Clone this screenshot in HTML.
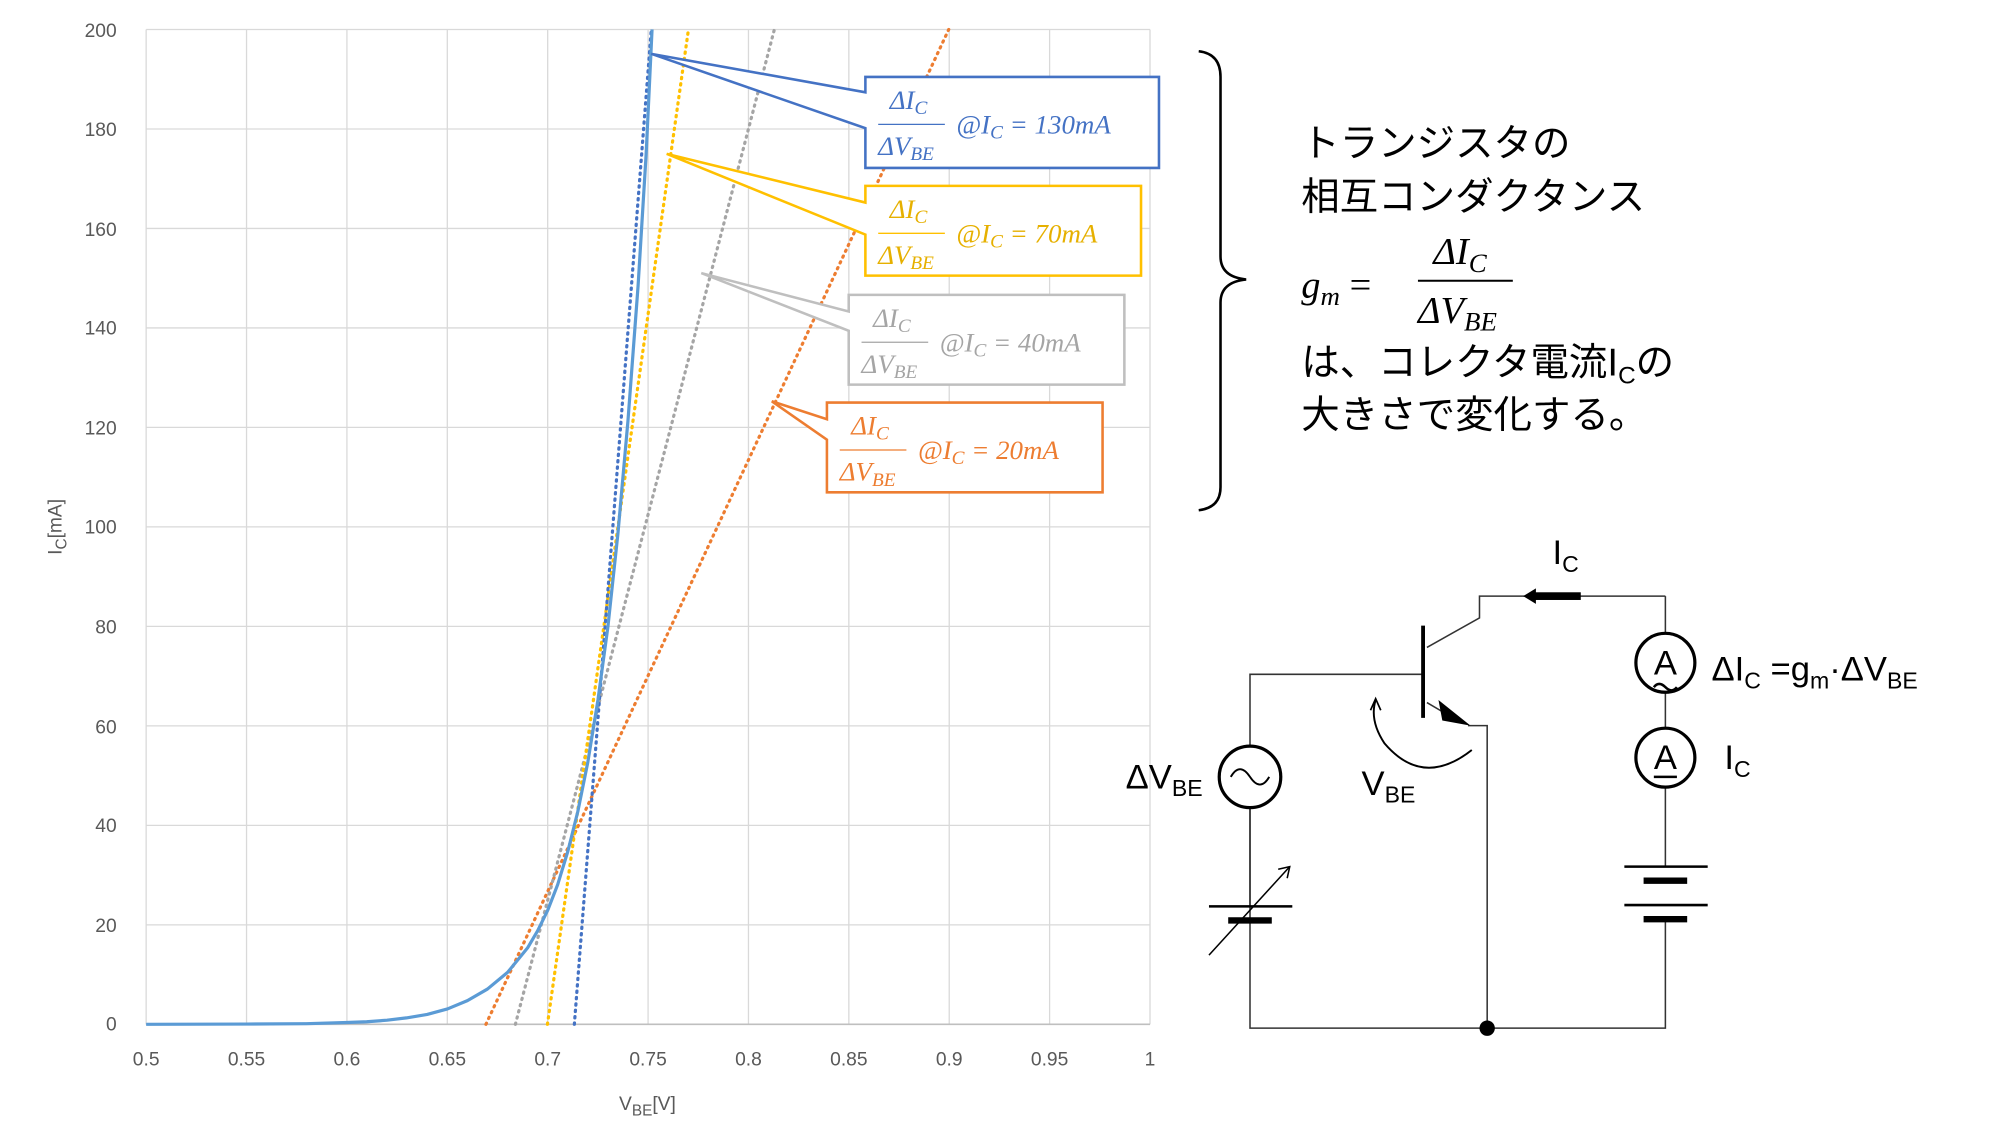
<!DOCTYPE html>
<html><head><meta charset="utf-8"><style>
html,body{margin:0;padding:0;background:#fff;}
svg{display:block;}
.t{font-family:"Liberation Sans",sans-serif;fill:#595959;font-size:15px;}
.m{font-family:"Liberation Serif",serif;font-style:italic;font-size:21px;}
.c{font-family:"Liberation Sans",sans-serif;font-size:27px;fill:#000;}
.j{font-family:"Liberation Sans","Noto Sans CJK JP",sans-serif;font-size:30px;fill:#000;}
</style></head><body>
<svg width="2000" height="1132" viewBox="0 0 1560 883" preserveAspectRatio="none" xmlns="http://www.w3.org/2000/svg">
<rect width="1560" height="883" fill="#fff"/>
<g stroke="#d9d9d9" stroke-width="1">
<line x1="114" y1="23" x2="897" y2="23"/><line x1="114" y1="100.6" x2="897" y2="100.6"/><line x1="114" y1="178.2" x2="897" y2="178.2"/><line x1="114" y1="255.8" x2="897" y2="255.8"/><line x1="114" y1="333.4" x2="897" y2="333.4"/><line x1="114" y1="411" x2="897" y2="411"/><line x1="114" y1="488.6" x2="897" y2="488.6"/><line x1="114" y1="566.2" x2="897" y2="566.2"/><line x1="114" y1="643.8" x2="897" y2="643.8"/><line x1="114" y1="721.4" x2="897" y2="721.4"/>
<line x1="114" y1="23" x2="114" y2="799"/><line x1="192.3" y1="23" x2="192.3" y2="799"/><line x1="270.6" y1="23" x2="270.6" y2="799"/><line x1="348.9" y1="23" x2="348.9" y2="799"/><line x1="427.2" y1="23" x2="427.2" y2="799"/><line x1="505.5" y1="23" x2="505.5" y2="799"/><line x1="583.8" y1="23" x2="583.8" y2="799"/><line x1="662.1" y1="23" x2="662.1" y2="799"/><line x1="740.4" y1="23" x2="740.4" y2="799"/><line x1="818.7" y1="23" x2="818.7" y2="799"/><line x1="897" y1="23" x2="897" y2="799"/>
</g>
<line x1="114" y1="799" x2="897" y2="799" stroke="#bfbfbf" stroke-width="1.2"/>
<g class="t" text-anchor="end">
<text x="91" y="29">200</text><text x="91" y="106">180</text><text x="91" y="184">160</text><text x="91" y="261">140</text><text x="91" y="339">120</text><text x="91" y="416">100</text><text x="91" y="494">80</text><text x="91" y="572">60</text><text x="91" y="649">40</text><text x="91" y="727">20</text><text x="91" y="804">0</text>
</g>
<g class="t" text-anchor="middle">
<text x="114" y="831">0.5</text><text x="192.3" y="831">0.55</text><text x="270.6" y="831">0.6</text><text x="348.9" y="831">0.65</text><text x="427.2" y="831">0.7</text><text x="505.5" y="831">0.75</text><text x="583.8" y="831">0.8</text><text x="662.1" y="831">0.85</text><text x="740.4" y="831">0.9</text><text x="818.7" y="831">0.95</text><text x="897" y="831">1</text>
</g>
<text class="t" x="505" y="866" text-anchor="middle" font-size="18">V<tspan font-size="12" dy="4">BE</tspan><tspan dy="-4">[V]</tspan></text>
<text class="t" transform="translate(48,411) rotate(-90)" text-anchor="middle" font-size="18">I<tspan font-size="12" dy="4">C</tspan><tspan dy="-4">[mA]</tspan></text>
<g stroke-width="2.5" stroke-dasharray="1 4" stroke-linecap="round" fill="none">
<line x1="379" y1="799" x2="740" y2="23" stroke="#ED7D31"/>
<line x1="402" y1="799" x2="604" y2="23" stroke="#A5A5A5"/>
<line x1="427" y1="799" x2="537" y2="23" stroke="#FFC000"/>
<line x1="448" y1="799" x2="508" y2="23" stroke="#4472C4"/>
</g>
<path d="M114,799 L192,798.8 L239,798.5 L270.6,797.6 L286,797 L301.9,795.8 L317,794 L333.2,791.3 L349,787 L364.6,780.5 L380.2,771.5 L395.9,758.5 L411.5,739.4 L419.4,726 L427.2,710.1 L435,690 L442.9,664.1 L450.7,633 L458.5,594.5 L466.4,546 L474.2,488.6 L482,416 L489.8,328.3 L497.7,223 L504,120 L508.6,23" fill="none" stroke="#5B9BD5" stroke-width="2.5" stroke-linejoin="round"/>
<path d="M675,60 H904 V131 H675 V100 L508,42 L675,72 Z" fill="#fff" stroke="#4472C4" stroke-width="2"/>
<g fill="#4472C4" class="m"><text x="694" y="85">ΔI<tspan font-size="15" dy="4">C</tspan></text><line x1="685" y1="97" x2="737" y2="97" stroke="#4472C4"/><text x="685" y="121">ΔV<tspan font-size="15" dy="4">BE</tspan></text><text x="746" y="104">@I<tspan font-size="15" dy="4">C</tspan><tspan dy="-4"> = 130mA</tspan></text></g>
<path d="M675,145 H890 V215 H675 V183 L520,120 L675,158 Z" fill="#fff" stroke="#FFC000" stroke-width="2"/>
<g fill="#E6B000" class="m"><text x="694" y="170">ΔI<tspan font-size="15" dy="4">C</tspan></text><line x1="685" y1="182" x2="737" y2="182" stroke="#FFC000"/><text x="685" y="206">ΔV<tspan font-size="15" dy="4">BE</tspan></text><text x="746" y="189">@I<tspan font-size="15" dy="4">C</tspan><tspan dy="-4"> = 70mA</tspan></text></g>
<path d="M662,230 H877 V300 H662 V258 L547,213 L662,243 Z" fill="#fff" stroke="#BFBFBF" stroke-width="2"/>
<g fill="#A5A5A5" class="m"><text x="681" y="255">ΔI<tspan font-size="15" dy="4">C</tspan></text><line x1="672" y1="267" x2="724" y2="267" stroke="#A5A5A5"/><text x="672" y="291">ΔV<tspan font-size="15" dy="4">BE</tspan></text><text x="733" y="274">@I<tspan font-size="15" dy="4">C</tspan><tspan dy="-4"> = 40mA</tspan></text></g>
<path d="M645,314 H860 V384 H645 V343 L602,313 L645,327 Z" fill="#fff" stroke="#ED7D31" stroke-width="2"/>
<g fill="#ED7D31" class="m"><text x="664" y="339">ΔI<tspan font-size="15" dy="4">C</tspan></text><line x1="655" y1="351" x2="707" y2="351" stroke="#ED7D31"/><text x="655" y="375">ΔV<tspan font-size="15" dy="4">BE</tspan></text><text x="716" y="358">@I<tspan font-size="15" dy="4">C</tspan><tspan dy="-4"> = 20mA</tspan></text></g>
<path d="M935,40 Q952,42 952,60 V200 Q952,216 972,218 Q952,220 952,236 V380 Q952,396 935,398" fill="none" stroke="#000" stroke-width="2"/>
<text class="j" x="1015" y="122">トランジスタの</text>
<text class="j" x="1015" y="164">相互コンダクタンス</text>
<text x="1015" y="232" font-family="Liberation Serif,serif" font-style="italic" font-size="30">g<tspan font-size="21" dy="6">m</tspan><tspan dy="-6" font-style="normal"> =</tspan></text>
<text x="1118" y="206" font-family="Liberation Serif,serif" font-style="italic" font-size="30">ΔI<tspan font-size="21" dy="6">C</tspan></text>
<line x1="1106" y1="219" x2="1180" y2="219" stroke="#000" stroke-width="1.5"/>
<text x="1106" y="252" font-family="Liberation Serif,serif" font-style="italic" font-size="30">ΔV<tspan font-size="21" dy="6">BE</tspan></text>
<text class="j" x="1015" y="293">は、コレクタ電流I<tspan font-size="19" dy="6">C</tspan><tspan dy="-6">の</tspan></text>
<text class="j" x="1015" y="334">大きさで変化する。</text>
<g stroke="#333" stroke-width="1.2" fill="none">
<polyline points="1299,465 1154,465 1154,482 1113,505"/>
<polyline points="975,582 975,526 1110,526"/>
<polyline points="1113,548 1130,558"/>
<polyline points="1145,566 1160,566 1160,802"/>
<polyline points="975,630 975,802 1299,802 1299,717"/>
<line x1="1299" y1="465" x2="1299" y2="494"/><line x1="1299" y1="540" x2="1299" y2="568"/><line x1="1299" y1="614" x2="1299" y2="676"/>
<line x1="975" y1="630" x2="975" y2="707"/>
</g>
<line x1="1110" y1="488" x2="1110" y2="560" stroke="#000" stroke-width="3"/>
<polygon points="1147,566 1122,546 1125,562" fill="#000"/>
<rect x="1196" y="462" width="37" height="6" fill="#000"/>
<polygon points="1188,465 1198,459 1198,471" fill="#000"/>
<text class="c" x="1211" y="440">I<tspan font-size="18" dy="6">C</tspan></text>
<g stroke="#000" stroke-width="2.5" fill="none"><circle cx="1299" cy="517" r="23"/><circle cx="1299" cy="591" r="23"/><circle cx="975" cy="606" r="24"/></g>
<text class="c" x="1299" y="526" text-anchor="middle" font-size="25">A</text>
<path d="M1290,536 q4,-5 9,0 t9,0" stroke="#000" stroke-width="2" fill="none"/>
<text class="c" x="1299" y="600" text-anchor="middle" font-size="25">A</text>
<line x1="1290" y1="606" x2="1308" y2="606" stroke="#000" stroke-width="2"/>
<path d="M960,606 q7,-12 15,0 t15,0" stroke="#000" stroke-width="1.5" fill="none"/>
<text class="c" x="1335" y="531">ΔI<tspan font-size="18" dy="6">C</tspan><tspan dy="-6"> =g</tspan><tspan font-size="18" dy="6">m</tspan><tspan dy="-6">·ΔV</tspan><tspan font-size="18" dy="6">BE</tspan></text>
<text class="c" x="1345" y="600">I<tspan font-size="18" dy="6">C</tspan></text>
<text class="c" x="878" y="615">ΔV<tspan font-size="18" dy="6">BE</tspan></text>
<text class="c" x="1062" y="620">V<tspan font-size="18" dy="6">BE</tspan></text>
<g stroke="#000">
<line x1="1267" y1="676" x2="1332" y2="676" stroke-width="2"/><line x1="1282" y1="687" x2="1316" y2="687" stroke-width="5"/>
<line x1="1267" y1="706" x2="1332" y2="706" stroke-width="2"/><line x1="1282" y1="717" x2="1316" y2="717" stroke-width="5"/>
<line x1="943" y1="707" x2="1008" y2="707" stroke-width="2"/><line x1="958" y1="718" x2="992" y2="718" stroke-width="5"/>
<line x1="943" y1="745" x2="1006" y2="676" stroke-width="1.2"/>
<polyline points="997,678 1006,676 1004,685" fill="none" stroke-width="1.2"/>
</g>
<path d="M1148,585 Q1110,615 1080,580 Q1068,562 1073,546" fill="none" stroke="#000" stroke-width="1.5"/>
<polyline points="1069,554 1073,545 1077,554" fill="none" stroke="#000" stroke-width="1.3"/>
<circle cx="1160" cy="802" r="6" fill="#000"/>
</svg>
</body></html>
